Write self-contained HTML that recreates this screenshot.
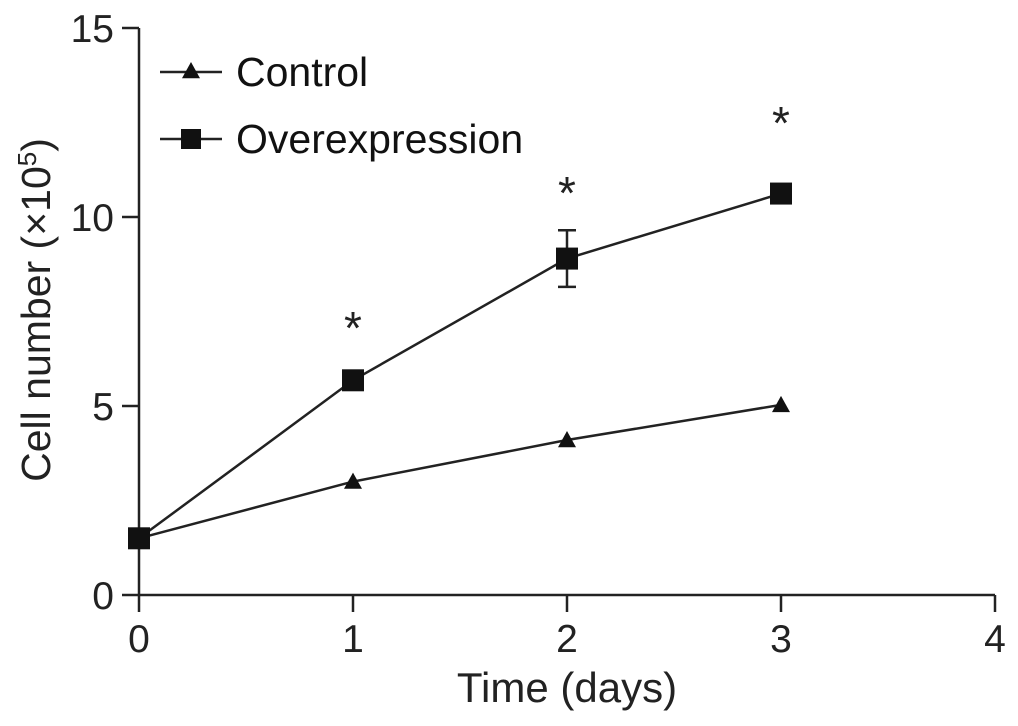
<!DOCTYPE html>
<html><head><meta charset="utf-8"><style>
html,body{margin:0;padding:0;background:#fff;}
svg{display:block;font-family:"Liberation Sans",Arial,sans-serif;}
</style></head><body>
<svg id="chart" width="1018" height="726" viewBox="0 0 1018 726"></svg>
<script>
const days=[0,1,2,3];
const controlVals=[1.5,3.0,4.1,5.03];
const overVals=[1.5,5.68,8.9,10.62];
const overErr=[0,0,0.75,0];
const starLevels=[null,7.22,10.8,12.65];
const xTicks=[0,1,2,3,4];
const yTicks=[0,5,10,15];
const NS="http://www.w3.org/2000/svg";
const svg=document.getElementById('chart');
const X=v=>139+v*214;
const Y=v=>595-v*37.8;
function mk(t,a,p){const e=document.createElementNS(NS,t);for(const k in a)e.setAttribute(k,a[k]);(p||svg).appendChild(e);return e;}
const axes=mk('g',{});


let l=mk('line',{x1:139,y1:28,x2:139,y2:595,stroke:'#222','stroke-width':2.5},axes);

l=mk('line',{x1:139,y1:595,x2:995,y2:595,stroke:'#222','stroke-width':2.5},axes);

yTicks.forEach(v=>{
 mk('line',{x1:122,y1:Y(v),x2:139,y2:Y(v),stroke:'#222','stroke-width':2.5},axes);
 const t=mk('text',{x:114,y:Y(v)+14,'text-anchor':'end','font-size':39,fill:'#222'},axes);
 t.textContent=v;
 
 
});
xTicks.forEach(v=>{
 mk('line',{x1:X(v),y1:595,x2:X(v),y2:612,stroke:'#222','stroke-width':2.5},axes);
 const t=mk('text',{x:X(v),y:652,'text-anchor':'middle','font-size':39,fill:'#222'},axes);
 t.textContent=v;
 
 
});
let t=mk('text',{x:567,y:702,'text-anchor':'middle','font-size':42,fill:'#222'});
t.textContent='Time (days)';

t=mk('text',{transform:'translate(50,310) rotate(-90)','text-anchor':'middle','font-size':41,fill:'#222'});
t.innerHTML='Cell number (×10<tspan dy="-14" font-size="26">5</tspan><tspan dy="14">)</tspan>';

function tri(cx,cy,s,p){return mk('polygon',{points:`${cx},${cy-s} ${cx-s},${cy+s*0.8} ${cx+s},${cy+s*0.8}`,fill:'#111'},p);}
function sq(cx,cy,s,p){return mk('rect',{x:cx-s,y:cy-s,width:2*s,height:2*s,fill:'#111'},p);}
const cg=mk('g',{});

mk('polyline',{points:days.map((d,i)=>X(d)+','+Y(controlVals[i])).join(' '),fill:'none',stroke:'#222','stroke-width':2.5},cg);
days.forEach((d,i)=>{const m=tri(X(d),Y(controlVals[i]),9,cg);
 });
const og=mk('g',{});

mk('polyline',{points:days.map((d,i)=>X(d)+','+Y(overVals[i])).join(' '),fill:'none',stroke:'#222','stroke-width':2.5},og);
days.forEach((d,i)=>{
 if(overErr[i]>0){
  const eb=mk('path',{d:`M${X(d)},${Y(overVals[i]+overErr[i])}V${Y(overVals[i]-overErr[i])}M${X(d)-9},${Y(overVals[i]+overErr[i])}h18M${X(d)-9},${Y(overVals[i]-overErr[i])}h18`,stroke:'#222','stroke-width':2.5,fill:'none'},og);
  
 }
 const m=sq(X(d),Y(overVals[i]),11,og);
 
 if(starLevels[i]!==null){
  const s=mk('text',{x:X(d),y:Y(starLevels[i])+22,'text-anchor':'middle','font-size':46,fill:'#222'},og);
  s.textContent='*';
  
 }
});
const lg=mk('g',{});

mk('line',{x1:160,y1:72,x2:222,y2:72,stroke:'#222','stroke-width':2.5},lg);
tri(191,71,9,lg);
t=mk('text',{x:236,y:86,'font-size':41,fill:'#111'},lg);t.textContent='Control';

mk('line',{x1:160,y1:139,x2:222,y2:139,stroke:'#222','stroke-width':2.5},lg);
sq(191,139,10,lg);
t=mk('text',{x:236,y:153,'font-size':41,fill:'#111'},lg);t.textContent='Overexpression';

</script>
</body></html>
